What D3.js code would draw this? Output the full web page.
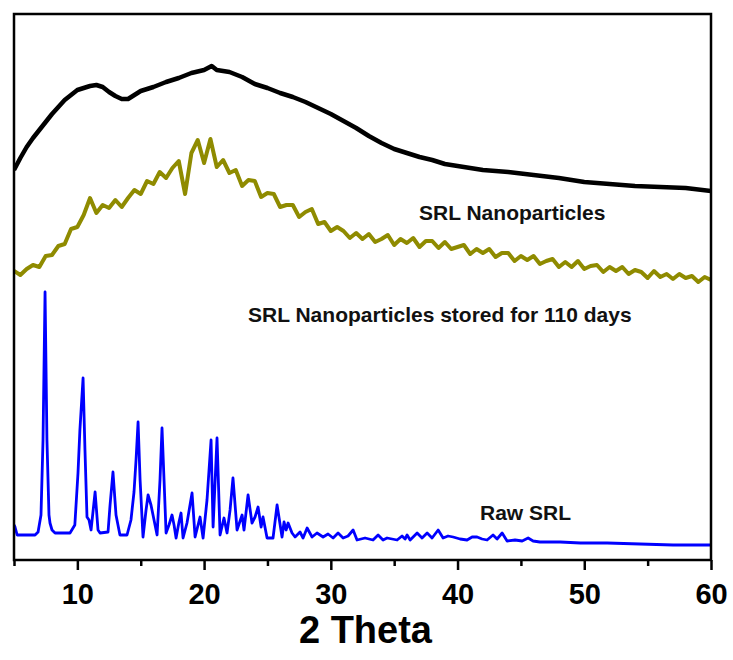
<!DOCTYPE html>
<html>
<head>
<meta charset="utf-8">
<script src="https://cdn.jsdelivr.net/npm/d3@7"></script>
<style>
  body { margin: 0; background: #fff; }
  svg text { font-family: Arial, "Liberation Sans", sans-serif; font-weight: bold; }
</style>
</head>
<body>
<div id="chart"></div>
<script>
// 2 theta positions and intensities (a.u.)

// SRL Nanoparticles (black)
var npTheta = [5, 5.5, 6, 6.5, 7, 7.5, 8, 8.5, 9, 9.5, 10, 10.5, 11, 11.5, 12, 12.5, 13, 13.5, 14, 14.5,
    15, 16, 17, 18, 19, 20, 20.6, 21, 22, 23, 24, 25, 26, 27, 28, 29, 30, 31, 32, 33, 34, 35, 36, 37,
    38, 39, 40, 42, 44, 46, 48, 50, 52, 54, 56, 58, 60];
var npInt = [390, 402, 413, 422, 430, 438, 446, 453, 460, 465, 470, 472, 474, 475, 473, 468, 464, 461, 461, 465,
    469, 473, 478, 482, 487, 490, 494, 490, 488, 483, 476, 472, 467, 463, 458, 452, 446, 439, 432, 424, 417, 411, 407, 403,
    400, 396, 394, 390, 388, 385, 382, 378, 376, 374, 373, 372, 369];

// SRL Nanoparticles stored for 110 days (olive), every 0.5 degree from 5 to 60
var storedInt = [289, 285, 291, 295, 293, 304, 305, 314, 316, 331, 333, 345, 362, 347, 355, 352, 360, 353, 362, 370,
    366, 379, 376, 388, 382, 392, 399, 366, 407, 420, 397, 421, 393, 400, 387, 390, 374, 380, 379, 363,
    367, 366, 353, 355, 355, 343, 348, 351, 336, 338, 329, 333, 329, 322, 327, 321, 326, 318, 321, 325,
    315, 321, 317, 322, 313, 319, 319, 312, 318, 311, 313, 315, 306, 311, 307, 311, 303, 307, 307, 299,
    304, 300, 304, 296, 299, 301, 293, 298, 293, 299, 291, 294, 295, 288, 293, 289, 293, 286, 290, 288,
    282, 289, 283, 286, 281, 286, 282, 284, 278, 283, 280];
var storedTheta = storedInt.map(function(d, i) { return 5 + i * 0.5; });

// Raw SRL (blue)
var rawTheta = [5.0, 5.08, 5.25, 6.66, 6.9, 7.13, 7.29, 7.45, 7.6, 7.76, 7.84, 8.0, 8.24, 9.42, 9.8, 10.05, 10.2, 10.45,
    10.6, 10.76, 10.92, 11.08, 11.4, 11.63, 11.79, 12.42, 12.58, 12.81, 13.05, 13.36, 13.92, 14.23, 14.47, 14.63,
    14.79, 14.95, 15.18, 15.42, 15.58, 15.81, 15.97, 16.29, 16.52, 16.68, 16.84, 17.0, 17.23, 17.47, 17.63, 17.79,
    18.02, 18.18, 18.34, 18.65, 19.05, 19.29, 19.68, 19.92, 20.23, 20.55, 20.71, 21.02, 21.26, 21.57, 21.81, 22.05,
    22.28, 22.6, 23.0, 23.15, 23.47, 23.78, 24.02, 24.26, 24.5, 24.65, 24.97, 25.44, 25.76, 26.15, 26.31, 26.47,
    26.63, 26.94, 27.18, 27.57, 27.81, 28.13, 28.52, 28.91, 29.39, 29.78, 30.18, 30.57, 30.97, 31.36, 31.76, 32.07,
    32.7, 33.33, 33.73, 34.12, 34.44, 35.23, 35.62, 35.86, 36.02, 36.26, 36.81, 37.2, 37.6, 37.99, 38.47, 38.86,
    39.25, 39.65, 40.2, 40.75, 41.15, 41.54, 41.94, 42.33, 42.8, 43.12, 43.52, 43.91, 44.54, 45.1, 45.57, 45.96,
    46.5, 48.1, 49.7, 51.8, 54.4, 57.0, 60.0];
var rawInt = [35, 33, 25, 25, 28, 45, 120, 268, 120, 45, 37, 30, 27, 27, 35, 87, 130, 182,
    110, 43, 40, 30, 68, 30, 27, 28, 55, 88, 45, 25, 25, 40, 68, 100,
    138, 80, 23, 50, 65, 55, 45, 25, 80, 132, 80, 27, 35, 45, 35, 22,
    38, 47, 22, 37, 67, 23, 43, 22, 60, 120, 33, 122, 25, 42, 27, 50,
    82, 30, 45, 30, 65, 37, 43, 53, 33, 43, 22, 22, 55, 23, 38, 30,
    37, 27, 23, 28, 22, 32, 23, 27, 23, 26, 22, 27, 22, 24, 30, 20,
    22, 20, 25, 20, 22, 20, 24, 21, 25, 20, 27, 22, 27, 22, 30, 22,
    24, 23, 21, 20, 23, 23, 21, 20, 25, 21, 27, 19, 20, 19, 22, 19,
    18, 18, 17, 17, 16, 15, 15];

var xTicks = [10, 20, 30, 40, 50, 60];
var xMinorTicks = [5, 15, 25, 35, 45, 55];

var series = [
    { name: "SRL Nanoparticles", theta: npTheta, val: npInt, color: "#000000", width: 4.5 },
    { name: "SRL Nanoparticles stored for 110 days", theta: storedTheta, val: storedInt, color: "#8f8b00", width: 4 },
    { name: "Raw SRL", theta: rawTheta, val: rawInt, color: "#0000ff", width: 2.8 }
];

var W = 733, H = 660;
var mLeft = 14, mRight = 711, mTop = 14, mBottom = 560;

var svg = d3.select("#chart").append("svg")
    .attr("width", W)
    .attr("height", H);

var x = d3.scaleLinear().domain([5, 60]).range([mLeft, mRight]);
var y = d3.scaleLinear().domain([0, 546]).range([mBottom, mTop]);

var line = d3.line()
    .x(function(d) { return x(d[0]); })
    .y(function(d) { return y(d[1]); });

svg.append("clipPath").attr("id", "plotclip")
    .append("rect")
    .attr("x", mLeft).attr("y", mTop)
    .attr("width", mRight - mLeft).attr("height", mBottom - mTop);

series.forEach(function(s) {
    var pts = s.theta.map(function(t, i) { return [t, s.val[i]]; });
    svg.append("path")
        .datum(pts)
        .attr("clip-path", "url(#plotclip)")
        .attr("fill", "none")
        .attr("stroke", s.color)
        .attr("stroke-width", s.width)
        .attr("stroke-linejoin", "round")
        .attr("d", line);
});

// minor ticks
svg.append("g")
    .attr("transform", "translate(0," + mBottom + ")")
    .call(d3.axisBottom(x).tickValues(xMinorTicks).tickSize(6).tickFormat(""))
    .call(function(g) { g.select(".domain").remove(); })
    .selectAll("line").attr("stroke", "#000").attr("stroke-width", 2.5);

// major ticks + labels
var xAxis = svg.append("g")
    .attr("transform", "translate(0," + mBottom + ")")
    .call(d3.axisBottom(x).tickValues(xTicks).tickSize(10).tickPadding(13).tickFormat(d3.format("d")));
xAxis.select(".domain").remove();
xAxis.selectAll("line").attr("stroke", "#000").attr("stroke-width", 2.5);
xAxis.selectAll("text")
    .attr("fill", "#000")
    .style("font-size", "29px")
    .style("font-weight", "bold")
    .style("font-family", "Arial, 'Liberation Sans', sans-serif");

// frame
svg.append("rect")
    .attr("x", mLeft).attr("y", mTop)
    .attr("width", mRight - mLeft).attr("height", mBottom - mTop)
    .attr("fill", "none")
    .attr("stroke", "#000")
    .attr("stroke-width", 2.5);

// curve labels
var labels = [
    { text: "SRL Nanoparticles", x: 419, y: 220 },
    { text: "SRL Nanoparticles stored for 110 days", x: 248, y: 322 },
    { text: "Raw SRL", x: 480, y: 520 }
];
svg.selectAll(".lbl")
    .data(labels)
    .enter()
    .append("text")
    .attr("class", "lbl")
    .attr("x", function(d) { return d.x; })
    .attr("y", function(d) { return d.y; })
    .attr("font-size", "21px")
    .attr("fill", "#111")
    .text(function(d) { return d.text; });

// axis title
svg.append("text")
    .attr("x", (mLeft + mRight) / 2 + 3)
    .attr("y", 643)
    .attr("text-anchor", "middle")
    .attr("font-size", "38px")
    .attr("fill", "#000")
    .text("2 Theta");
</script>
</body>
</html>
